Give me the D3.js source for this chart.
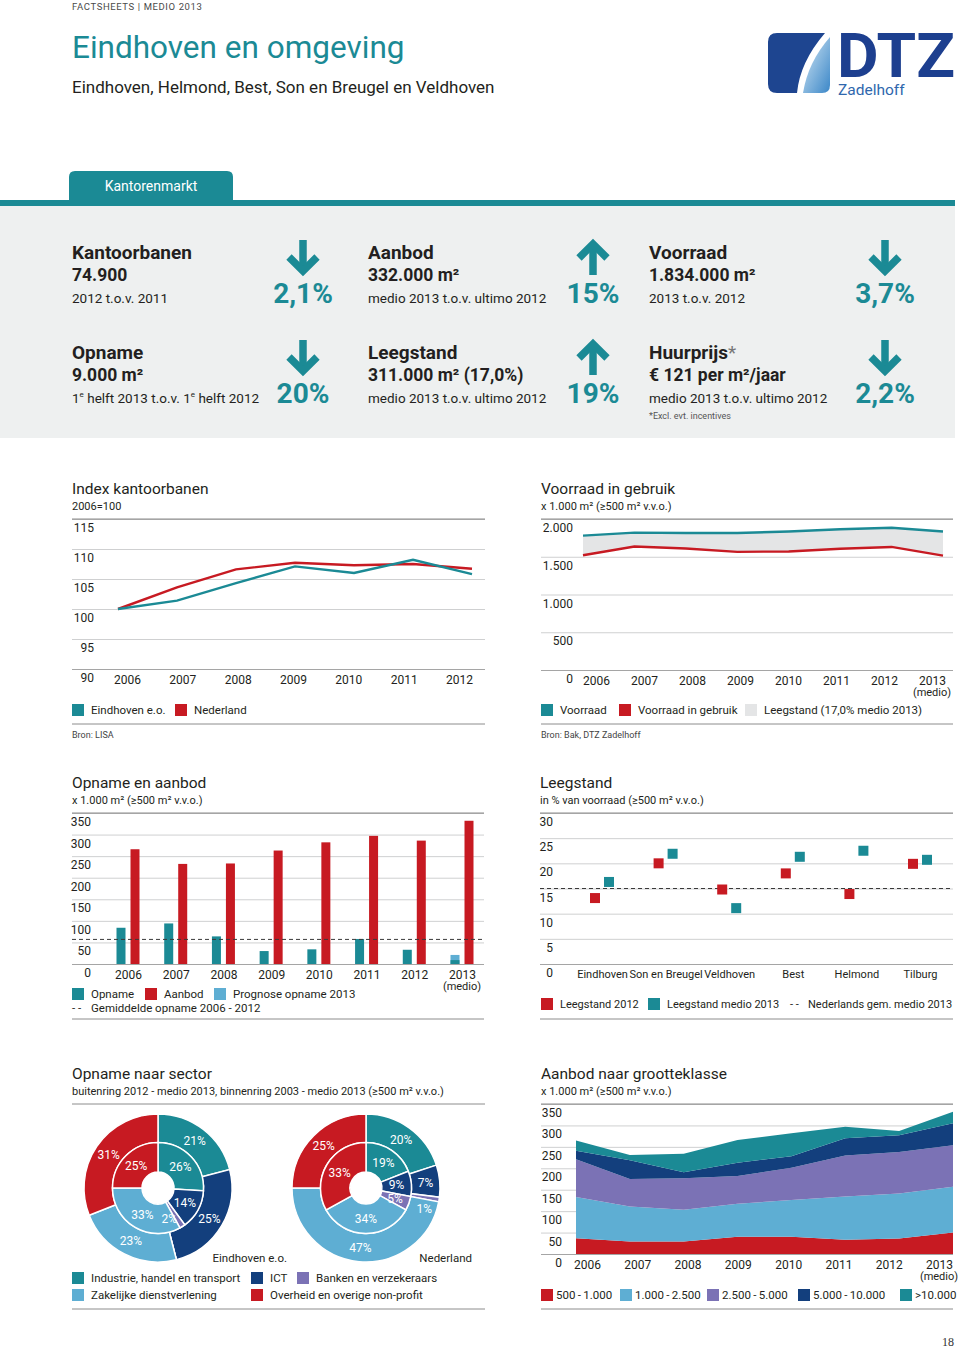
<!DOCTYPE html>
<html>
<head>
<meta charset="utf-8">
<script src="https://cdn.jsdelivr.net/npm/d3@7"></script>
<style>
  body { margin: 0; background: #fff; }
  svg { display: block; font-family: Roboto, "Open Sans", sans-serif; }
</style>
</head>
<body>
<svg id="page" width="960" height="1348"></svg>
<script>
// ---- kerncijfers ----
const kpiLabels  = ["Kantoorbanen", "Aanbod", "Voorraad", "Opname", "Leegstand", "Huurprijs"];
const kpiValues  = ["74.900", "332.000 m²", "1.834.000 m²", "9.000 m²", "311.000 m² (17,0%)", "€ 121 per m²/jaar"];
const kpiNotes   = ["2012 t.o.v. 2011", "medio 2013 t.o.v. ultimo 2012", "2013 t.o.v. 2012",
                    "1e helft 2013 t.o.v. 1e helft 2012", "medio 2013 t.o.v. ultimo 2012", "medio 2013 t.o.v. ultimo 2012"];
const kpiChanges = ["2,1%", "15%", "3,7%", "20%", "19%", "2,2%"];
const kpiDir     = ["down", "up", "down", "down", "up", "down"];

// ---- index kantoorbanen (2006=100) ----
const idxYears = ["2006", "2007", "2008", "2009", "2010", "2011", "2012"];
const idxEindhoven = [100, 101.4, 104.3, 107.1, 106.0, 108.2, 105.8];
const idxNederland = [100, 103.6, 106.6, 107.7, 107.3, 107.5, 106.7];
const idxTicks = [90, 95, 100, 105, 110, 115];

// ---- voorraad in gebruik (x 1.000 m2) ----
const vrYears = ["2006", "2007", "2008", "2009", "2010", "2011", "2012", "2013"];
const vrVoorraad = [1780, 1820, 1815, 1815, 1835, 1865, 1885, 1834];
const vrGebruik  = [1520, 1635, 1610, 1565, 1570, 1605, 1630, 1515];
const vrTicks = [0, 500, 1000, 1500, 2000];

// ---- opname en aanbod (x 1.000 m2) ----
const oaYears = ["2006", "2007", "2008", "2009", "2010", "2011", "2012", "2013"];
const oaOpname = [84, 94, 64, 30, 34, 58, 33, 9];
const oaPrognose = [0, 0, 0, 0, 0, 0, 0, 21];
const oaAanbod = [266, 232, 233, 263, 282, 297, 286, 332];
const oaGemiddelde = 57;
const oaTicks = [0, 50, 100, 150, 200, 250, 300, 350];

// ---- leegstand (% van voorraad) ----
const lsCities = ["Eindhoven", "Son en Breugel", "Veldhoven", "Best", "Helmond", "Tilburg"];
const ls2012 = [13.1, 20.0, 14.8, 18.0, 13.9, 19.9];
const ls2013 = [16.3, 21.9, 11.1, 21.3, 22.5, 20.7];
const lsNederland = 15.0;
const lsTicks = [0, 5, 10, 15, 20, 25, 30];

// ---- opname naar sector (%) ----
const sectorNames = ["Industrie, handel en transport", "ICT", "Banken en verzekeraars",
                     "Zakelijke dienstverlening", "Overheid en overige non-profit"];
const ehvOuter = [21, 25, 0, 23, 31];
const ehvInner = [26, 14, 2, 33, 25];
const nlOuter  = [20, 7, 1, 47, 25];
const nlInner  = [19, 9, 5, 34, 33];

// ---- aanbod naar grootteklasse (x 1.000 m2) ----
const gkYears = ["2006", "2007", "2008", "2009", "2010", "2011", "2012", "2013"];
const gkClasses = ["500\u2009-\u20091.000", "1.000\u2009-\u20092.500", "2.500\u2009-\u20095.000", "5.000\u2009-\u200910.000", ">10.000"];
const gk500   = [37, 29, 29, 40, 40, 33, 36, 50];
const gk1000  = [96, 82, 74, 77, 86, 101, 105, 107];
const gk2500  = [88, 64, 74, 65, 75, 96, 97, 97];
const gk5000  = [20, 44, 14, 31, 27, 40, 39, 51];
const gk10000 = [24, 12, 43, 53, 54, 27, 10, 27];

// colours
const TEAL = "#1b8a95", RED = "#c71a22", LBLUE = "#5eaed3", NAVY = "#133f7d", PURPLE = "#7b72b5";
const INK = "#231f20", GRID = "#cfd0d1", RULE = "#8c8c8c", PANEL = "#eef0f0";
const sectorColors = [TEAL, NAVY, PURPLE, LBLUE, RED];
const gkColors = [RED, LBLUE, PURPLE, NAVY, TEAL];

const nl = d3.formatLocale({decimal: ",", thousands: ".", grouping: [3], currency: ["€ ", ""]});
const fmt = nl.format(",");

const svg = d3.select("#page");

function txt(g, x, y, s, o) {
    o = o || {};
    return g.append("text")
        .attr("x", x).attr("y", y)
        .attr("font-size", o.size || 12)
        .attr("font-weight", o.weight || null)
        .attr("fill", o.fill || INK)
        .attr("text-anchor", o.anchor || "start")
        .attr("letter-spacing", o.ls || null)
        .text(s);
}

function legendItem(g, x, y, color, label, size) {
    g.append("rect").attr("x", x).attr("y", y - 10).attr("width", 12).attr("height", 12).attr("fill", color);
    txt(g, x + 19, y, label, {size: size || 11.5});
}

function hline(g, x0, x1, y, color) {
    g.append("line").attr("x1", x0).attr("x2", x1).attr("y1", y).attr("y2", y)
        .attr("stroke", color || RULE).attr("stroke-width", 1);
}

// grid with labels hanging below each line
function yGrid(g, y, ticks, x0, x1, labelRight, f) {
    const ax = d3.axisRight(y).tickValues(ticks).tickSize(x1 - x0).tickFormat(f || fmt);
    const a = g.append("g").attr("transform", `translate(${x0},0)`).call(ax)
        .attr("font-family", null).attr("font-size", 12);
    a.select(".domain").remove();
    a.selectAll(".tick line").attr("stroke", GRID);
    a.selectAll(".tick line").filter(d => d === ticks[ticks.length - 1] || d === ticks[0]).attr("stroke", "#a5a5a5");
    a.selectAll(".tick text").attr("x", labelRight - x0).attr("dy", 12.5)
        .attr("text-anchor", "end").attr("fill", INK);
}

function xLabels(g, scale, y0, size, medio) {
    const a = g.append("g").attr("transform", `translate(0,${y0})`)
        .call(d3.axisBottom(scale).tickSize(0))
        .attr("font-family", null).attr("font-size", size || 12);
    a.select(".domain").remove();
    a.selectAll(".tick text").attr("y", 2).attr("fill", INK);
    if (medio) {
        const last = scale.domain()[scale.domain().length - 1];
        txt(g, scale(last), y0 + 22, "(medio)", {size: 11, anchor: "middle"});
    }
}

function chartHead(g, x, y, title, sub, x1) {
    txt(g, x, y, title, {size: 15.5});
    txt(g, x, y + 16, sub, {size: 11});
    hline(g, x, x1, y + 25, RULE);
}

// ================= header =================
const head = svg.append("g");
txt(head, 72, 10, "FACTSHEETS | MEDIO 2013", {size: 9.5, fill: "#4a4a4a", ls: 0.6});
txt(head, 72, 58, "Eindhoven en omgeving", {size: 31.5, fill: TEAL});
txt(head, 72, 93, "Eindhoven, Helmond, Best, Son en Breugel en Veldhoven", {size: 17});

// logo
const logo = svg.append("g");
const grad = svg.append("defs").append("linearGradient").attr("id", "lg").attr("x1", 0).attr("y1", 0).attr("x2", 1).attr("y2", 1);
grad.append("stop").attr("offset", 0).attr("stop-color", "#d6e9f5");
grad.append("stop").attr("offset", 1).attr("stop-color", "#3b87c8");
logo.append("path").attr("d", "M777,33 H825 Q800,62 797,93 H777 Q768,93 768,84 V42 Q768,33 777,33 Z").attr("fill", "#1e4590");
logo.append("path").attr("d", "M830,37 V85 Q830,93 822,93 H803 Q808,62 830,37 Z").attr("fill", "url(#lg)");
txt(logo, 837, 77, "DTZ", {size: 62, weight: 700, fill: "#1d3f8f"}).attr("textLength", 118).attr("lengthAdjust", "spacingAndGlyphs");
txt(logo, 838, 95, "Zadelhoff", {size: 15.5, fill: "#2f67ad"});

// ================= kantorenmarkt panel =================
const panel = svg.append("g");
panel.append("path").attr("d", "M69,200 V177 Q69,171 75,171 H227 Q233,171 233,177 V200 Z").attr("fill", TEAL);
txt(panel, 151, 191, "Kantorenmarkt", {size: 14, fill: "#fff", anchor: "middle"});
panel.append("rect").attr("x", 0).attr("y", 200).attr("width", 955).attr("height", 6).attr("fill", TEAL);
panel.append("rect").attr("x", 0).attr("y", 206).attr("width", 955).attr("height", 232).attr("fill", PANEL);

const colX = [72, 368, 649];
const arrowX = [303, 593, 885];
const rowY = [259, 359];

function arrow(g, cx, top, dir) {
    const h = 35;
    const a = g.append("g").attr("fill", "none").attr("stroke", TEAL).attr("stroke-width", 7.5);
    a.append("line").attr("x1", cx).attr("x2", cx).attr("y1", top + (dir === "up" ? 4 : 0)).attr("y2", top + h - (dir === "up" ? 0 : 4));
    if (dir === "down") {
        a.append("polyline").attr("points", `${cx - 14},${top + 17} ${cx},${top + 31} ${cx + 14},${top + 17}`);
    } else {
        a.append("polyline").attr("points", `${cx - 14},${top + 18} ${cx},${top + 4} ${cx + 14},${top + 18}`);
    }
}

kpiLabels.forEach((lab, i) => {
    const col = i % 3, row = Math.floor(i / 3);
    const x = colX[col], y = rowY[row];
    const l = txt(panel, x, y, lab, {size: 19, weight: 700});
    if (lab === "Huurprijs") l.append("tspan").attr("fill", "#777").attr("font-weight", 400).text("*");
    txt(panel, x, y + 22, kpiValues[i], {size: 17.5, weight: 700});
    const n = txt(panel, x, y + 43.5, "", {size: 13.5});
    const parts = kpiNotes[i].split("1e ");
    if (parts.length > 1) {
        parts.forEach((p, k) => {
            if (k > 0) {
                n.append("tspan").text("1");
                n.append("tspan").attr("font-size", 8).attr("dy", -6).text("e");
                n.append("tspan").attr("dy", 6).text(" " + p);
            } else if (p) n.append("tspan").text(p);
        });
    } else n.text(kpiNotes[i]);
    arrow(panel, arrowX[col], y - 19, kpiDir[i]);
    txt(panel, arrowX[col], y + 43.5, kpiChanges[i], {size: 28, weight: 700, fill: TEAL, anchor: "middle"});
});
txt(panel, 649, 419, "*Excl. evt. incentives", {size: 9, fill: "#555"});

// ================= index kantoorbanen =================
{
    const g = svg.append("g");
    chartHead(g, 72, 494, "Index kantoorbanen", "2006=100", 485);
    const y = d3.scaleLinear().domain([90, 115]).range([669, 519]);
    const x = d3.scalePoint().domain(idxYears).range([118, 472]);
    const xl = d3.scalePoint().domain(idxYears).range([127, 459]);
    yGrid(g, y, idxTicks, 72, 485, 94, d3.format("d"));
    xLabels(g, xl, 673, 12);
    const line = d3.line().x((d, i) => x(idxYears[i])).y(d => y(d));
    g.append("path").datum(idxNederland).attr("d", line).attr("fill", "none").attr("stroke", RED).attr("stroke-width", 2.4);
    g.append("path").datum(idxEindhoven).attr("d", line).attr("fill", "none").attr("stroke", TEAL).attr("stroke-width", 2.4);
    legendItem(g, 72, 714, TEAL, "Eindhoven e.o.");
    legendItem(g, 175, 714, RED, "Nederland");
    hline(g, 72, 485, 724, RULE);
    txt(g, 72, 738, "Bron: LISA", {size: 9, fill: "#444"});
}

// ================= voorraad in gebruik =================
{
    const g = svg.append("g");
    chartHead(g, 541, 494, "Voorraad in gebruik", "x 1.000 m² (≥500 m² v.v.o.)", 953);
    const y = d3.scaleLinear().domain([0, 2000]).range([670, 519]);
    const x = d3.scalePoint().domain(vrYears).range([583, 943]);
    const xl = d3.scalePoint().domain(vrYears).range([596, 932]);
    g.append("path").datum(vrYears)
        .attr("d", d3.area().x(d => x(d)).y0((d, i) => y(vrGebruik[i])).y1((d, i) => y(vrVoorraad[i])))
        .attr("fill", "#e4e5e6");
    yGrid(g, y, vrTicks, 541, 953, 573);
    xLabels(g, xl, 674, 12, true);
    const line = vals => d3.line().x((d, i) => x(vrYears[i])).y(d => y(d))(vals);
    g.append("path").attr("d", line(vrVoorraad)).attr("fill", "none").attr("stroke", TEAL).attr("stroke-width", 2.4);
    g.append("path").attr("d", line(vrGebruik)).attr("fill", "none").attr("stroke", RED).attr("stroke-width", 2.4);
    legendItem(g, 541, 714, TEAL, "Voorraad");
    legendItem(g, 619, 714, RED, "Voorraad in gebruik");
    legendItem(g, 745, 714, "#e4e5e6", "Leegstand (17,0% medio 2013)");
    hline(g, 541, 953, 724, RULE);
    txt(g, 541, 738, "Bron: Bak, DTZ Zadelhoff", {size: 9, fill: "#444"});
}

// ================= opname en aanbod =================
{
    const g = svg.append("g");
    chartHead(g, 72, 788, "Opname en aanbod", "x 1.000 m² (≥500 m² v.v.o.)", 484);
    const y = d3.scaleLinear().domain([0, 350]).range([964, 813]);
    const x = d3.scalePoint().domain(oaYears).range([128, 462]);
    yGrid(g, y, oaTicks, 72, 484, 91, d3.format("d"));
    xLabels(g, x, 968, 12, true);
    const bw = 9;
    g.selectAll(".prog").data(oaPrognose).enter().append("rect")
        .attr("x", (d, i) => x(oaYears[i]) - 7 - bw / 2).attr("width", bw)
        .attr("y", d => y(d)).attr("height", d => y(0) - y(d)).attr("fill", LBLUE);
    g.selectAll(".opn").data(oaOpname).enter().append("rect")
        .attr("x", (d, i) => x(oaYears[i]) - 7 - bw / 2).attr("width", bw)
        .attr("y", d => y(d)).attr("height", d => y(0) - y(d)).attr("fill", TEAL);
    g.selectAll(".anb").data(oaAanbod).enter().append("rect")
        .attr("x", (d, i) => x(oaYears[i]) + 7 - bw / 2).attr("width", bw)
        .attr("y", d => y(d)).attr("height", d => y(0) - y(d)).attr("fill", RED);
    g.append("line").attr("x1", 72).attr("x2", 484).attr("y1", y(oaGemiddelde)).attr("y2", y(oaGemiddelde))
        .attr("stroke", "#3a3a3a").attr("stroke-width", 1).attr("stroke-dasharray", "4,3");
    legendItem(g, 72, 998, TEAL, "Opname");
    legendItem(g, 145, 998, RED, "Aanbod");
    legendItem(g, 214, 998, LBLUE, "Prognose opname 2013");
    txt(g, 72, 1012, "- -", {size: 11.5});
    txt(g, 91, 1012, "Gemiddelde opname 2006 - 2012", {size: 11.5});
    hline(g, 72, 484, 1019, RULE);
}

// ================= leegstand =================
{
    const g = svg.append("g");
    chartHead(g, 540, 788, "Leegstand", "in % van voorraad (≥500 m² v.v.o.)", 953);
    const y = d3.scaleLinear().domain([0, 30]).range([964, 813]);
    const x = d3.scalePoint().domain(lsCities).range([602, 920]);
    yGrid(g, y, lsTicks, 540, 953, 553, d3.format("d"));
    xLabels(g, x, 968, 11);
    g.append("line").attr("x1", 540).attr("x2", 953).attr("y1", y(lsNederland)).attr("y2", y(lsNederland))
        .attr("stroke", "#3a3a3a").attr("stroke-width", 1).attr("stroke-dasharray", "4,3");
    const s = 10;
    g.selectAll(".r").data(ls2012).enter().append("rect")
        .attr("x", (d, i) => x(lsCities[i]) - 7 - s / 2).attr("y", d => y(d) - s / 2)
        .attr("width", s).attr("height", s).attr("fill", RED);
    g.selectAll(".t").data(ls2013).enter().append("rect")
        .attr("x", (d, i) => x(lsCities[i]) + 7 - s / 2).attr("y", d => y(d) - s / 2)
        .attr("width", s).attr("height", s).attr("fill", TEAL);
    legendItem(g, 541, 1008, RED, "Leegstand 2012", 11);
    legendItem(g, 648, 1008, TEAL, "Leegstand medio 2013", 11);
    txt(g, 790, 1008, "- -", {size: 11});
    txt(g, 808, 1008, "Nederlands gem. medio 2013", {size: 11});
    hline(g, 540, 953, 1019, RULE);
}

// ================= opname naar sector =================
{
    const g = svg.append("g");
    chartHead(g, 72, 1079, "Opname naar sector", "buitenring 2012 - medio 2013, binnenring 2003 - medio 2013 (≥500 m² v.v.o.)", 485);
    const pie = d3.pie().sort(null).value(d => d);
    const rings = [
        {cx: 158, cy: 1188, outer: ehvOuter, inner: ehvInner},
        {cx: 366, cy: 1188, outer: nlOuter, inner: nlInner}
    ];
    rings.forEach(r => {
        const c = g.append("g").attr("transform", `translate(${r.cx},${r.cy})`);
        [[r.outer, 45.5, 74], [r.inner, 16, 45.5]].forEach(([vals, r0, r1]) => {
            const arc = d3.arc().innerRadius(r0).outerRadius(r1);
            const arcs = pie(vals);
            c.selectAll(null).data(arcs).enter().append("path")
                .attr("d", arc).attr("fill", (d, i) => sectorColors[i])
                .attr("stroke", "#fff").attr("stroke-width", 1.5);
            // very thin slices get their label just past the slice
            const labelPos = d => {
                if (d.data >= 3) return arc.centroid(d);
                const a = d.endAngle + 0.15, rr = (r0 + r1) / 2 + 2;
                return [rr * Math.sin(a), -rr * Math.cos(a)];
            };
            c.selectAll(null).data(arcs.filter(d => d.data > 0)).enter().append("text")
                .attr("transform", d => `translate(${labelPos(d)})`)
                .attr("dy", "0.35em").attr("text-anchor", "middle")
                .attr("font-size", 12).attr("fill", "#fff")
                .text(d => d.data + "%");
        });
    });
    txt(g, 287, 1262, "Eindhoven e.o.", {size: 11.5, anchor: "end"});
    txt(g, 472, 1262, "Nederland", {size: 11.5, anchor: "end"});
    legendItem(g, 72, 1282, sectorColors[0], sectorNames[0]);
    legendItem(g, 251, 1282, sectorColors[1], sectorNames[1]);
    legendItem(g, 297, 1282, sectorColors[2], sectorNames[2]);
    legendItem(g, 72, 1299, sectorColors[3], sectorNames[3]);
    legendItem(g, 251, 1299, sectorColors[4], sectorNames[4]);
    hline(g, 72, 485, 1309, RULE);
}

// ================= aanbod naar grootteklasse =================
{
    const g = svg.append("g");
    chartHead(g, 541, 1079, "Aanbod naar grootteklasse", "x 1.000 m² (≥500 m² v.v.o.)", 953);
    const y = d3.scaleLinear().domain([0, 350]).range([1254, 1104]);
    const x = d3.scalePoint().domain(gkYears).range([576, 953]);
    const xl = d3.scalePoint().domain(gkYears).range([587, 939]);
    const series = [gk500, gk1000, gk2500, gk5000, gk10000];
    const rows = gkYears.map((yr, i) => {
        const o = {year: yr};
        gkClasses.forEach((k, j) => o[k] = series[j][i]);
        return o;
    });
    const stack = d3.stack().keys(gkClasses)(rows);
    yGrid(g, y, oaTicks, 541, 953, 562, d3.format("d"));
    const area = d3.area().x(d => x(d.data.year)).y0(d => y(d[0])).y1(d => y(d[1]));
    g.selectAll(".layer").data(stack).enter().append("path")
        .attr("d", area).attr("fill", (d, i) => gkColors[i]);
    xLabels(g, xl, 1258, 12, true);
    const lx = [541, 620, 707, 798, 900];
    gkClasses.forEach((k, i) => {
        g.append("rect").attr("x", lx[i]).attr("y", 1289).attr("width", 12).attr("height", 12).attr("fill", gkColors[i]);
        txt(g, lx[i] + 15, 1299, k, {size: 11.5});
    });
    hline(g, 541, 953, 1309, RULE);
}

txt(svg, 954, 1346, "18", {size: 12, fill: "#333", anchor: "end"}).attr("font-family", "Liberation Serif, serif");
</script>
</body>
</html>
